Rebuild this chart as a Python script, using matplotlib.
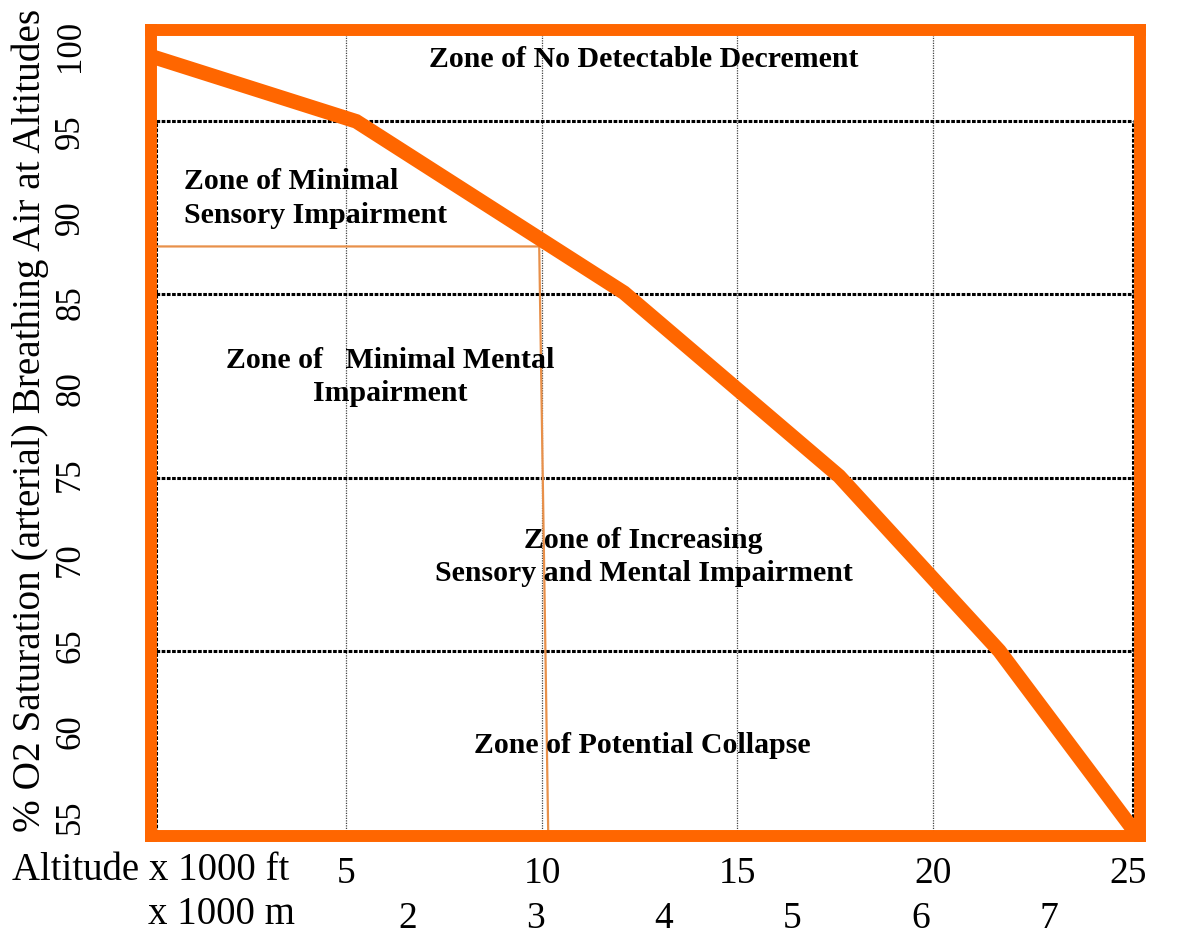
import matplotlib.pyplot as plt

# O2 saturation curve (altitude in 1000 ft, % saturation)
altitude_kft = [0, 5.25, 12.1, 17.6, 21.7, 25.1]
o2_saturation = [99.4, 95.6, 85.6, 74.9, 64.7, 54.35]

# zone boundaries (% saturation) and the dotted box round the lower zones
zone_bounds = [95.6, 85.5, 74.8, 64.7]
box_bottom = 54.1
box_sides = [0.13, 25.13]

# thin marker line: 88 % at ~10 000 ft
marker_x = [0, 9.93, 10.16]
marker_y = [88.3, 88.3, 54.1]

ft_ticks = [5, 10, 15, 20, 25]
m_ticks = [2, 3, 4, 5, 6, 7]
y_ticks = [55, 60, 65, 70, 75, 80, 85, 90, 95, 100]

zone_labels = [
    'Zone of No Detectable Decrement',
    'Zone of Minimal\nSensory Impairment',
    'Zone of   Minimal Mental\nImpairment',
    'Zone of Increasing\nSensory and Mental Impairment',
    'Zone of Potential Collapse',
]

orange = '#ff6600'
serif = 'Liberation Serif'

fig = plt.figure(figsize=(11.78, 9.34), dpi=100)
ax = fig.add_axes([0.1282, 0.1049, 0.8396, 0.863])
ax.set_xlim(0, 25.3)
ax.set_ylim(53.9, 100.93)

# grid
for x in ft_ticks[:-1]:
    ax.axvline(x, color='#444444', lw=0.9, ls=(0, (1, 1)), zorder=1)

# dotted zone box
for y in zone_bounds + [box_bottom]:
    ax.plot(box_sides, [y, y], color='black', lw=2.2, ls=(0, (1.2, 0.5)), zorder=2)
for x in box_sides:
    ax.plot([x, x], [box_bottom, zone_bounds[0]], color='black', lw=2.2,
            ls=(0, (1.2, 0.5)), zorder=2)

ax.plot(marker_x, marker_y, color='#e8904a', lw=1.6, zorder=3)
ax.plot(altitude_kft, o2_saturation, color=orange, lw=10.5,
        solid_joinstyle='miter', zorder=4)

# zone texts
text_xy = [(12.6, 99.2), (0.85, 91.1), (6.12, 80.7), (12.6, 70.2), (12.57, 59.2)]
text_ha = ['center', 'left', 'center', 'center', 'center']
for label, (tx, ty), ha in zip(zone_labels, text_xy, text_ha):
    ax.text(tx, ty, label, ha=ha, va='center', multialignment='center' if ha == 'center' else 'left',
            fontsize=21.5, fontweight='bold', family=serif, linespacing=1.3, zorder=5)

for s in ax.spines.values():
    s.set_color(orange)
    s.set_linewidth(8.6)
    s.set_zorder(6)

ax.set_xticks(ft_ticks)
ax.set_yticks(y_ticks)
ax.tick_params(axis='x', length=0, pad=15, labelsize=27)
ax.tick_params(axis='y', length=0, pad=46, labelsize=25, labelrotation=90)
for lab in ax.get_xticklabels() + ax.get_yticklabels():
    lab.set_family(serif)
for lab in ax.get_yticklabels():
    lab.set_va('center')

sec = ax.secondary_xaxis(-0.055, functions=(lambda x: x * 0.3048, lambda m: m / 0.3048))
sec.set_xticks(m_ticks)
sec.tick_params(length=0, pad=15, labelsize=27)
sec.spines['bottom'].set_visible(False)
for lab in sec.get_xticklabels():
    lab.set_family(serif)

fig.text(12 / 1178, 1 - 871 / 934, 'Altitude x 1000 ft', ha='left', va='center',
         fontsize=28, family=serif)
fig.text(148 / 1178, 1 - 915 / 934, 'x 1000 m', ha='left', va='center',
         fontsize=28, family=serif)
fig.text(30 / 1178, 1 - 420 / 934, '% O2 Saturation (arterial) Breathing Air at Altitudes',
         rotation=90, ha='center', va='center', fontsize=28.3, family=serif)

fig.savefig('out.png', dpi=100)
